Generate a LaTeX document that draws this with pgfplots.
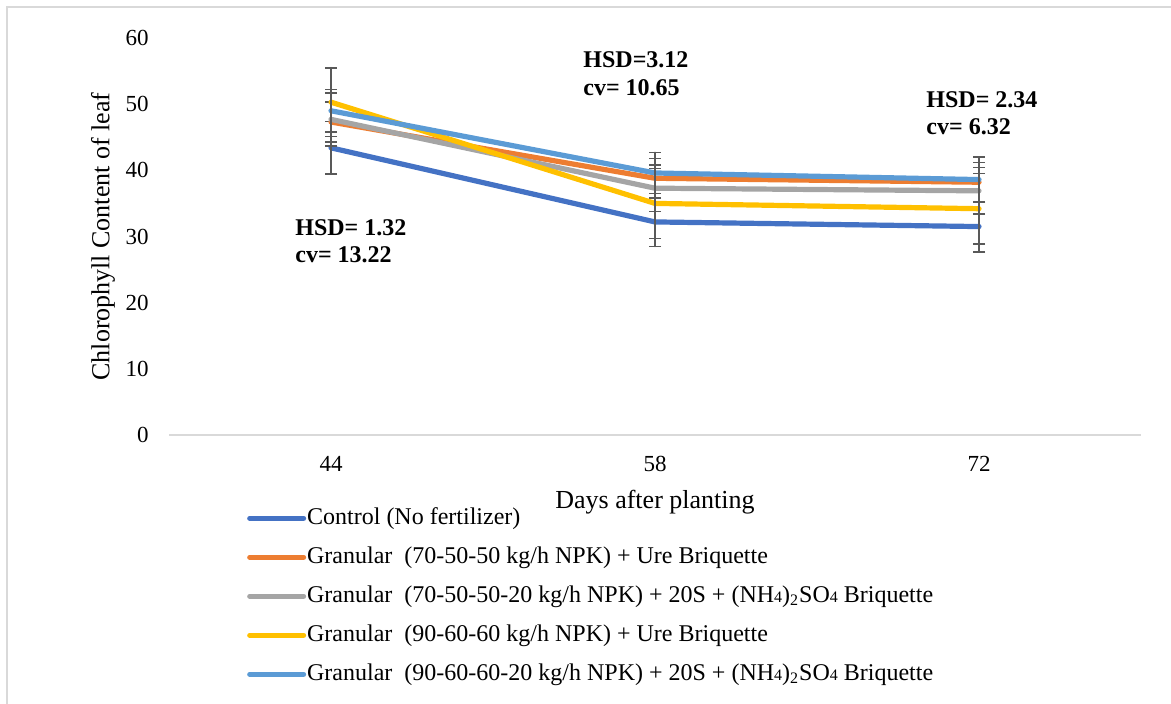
\documentclass[border=0pt]{standalone}
\usepackage{fontspec}
\setmainfont{Liberation Serif}
\usepackage{pgfplots}
\pgfplotsset{compat=1.18}
\definecolor{cA}{HTML}{4472C4}
\definecolor{cB}{HTML}{ED7D31}
\definecolor{cC}{HTML}{A5A5A5}
\definecolor{cD}{HTML}{FFC000}
\definecolor{cE}{HTML}{5B9BD5}
\definecolor{errc}{HTML}{595959}
\definecolor{frame}{HTML}{D9D9D9}
\begin{document}
\begin{tikzpicture}[x=0.5pt,y=0.5pt]
\path[use as bounding box] (0,0) rectangle (1171,704);
\draw[frame, line width=0.9pt] (7,0) -- (7,697) -- (1171,697);
\begin{axis}[
  at={(84.5pt,134.5pt)}, anchor=south west,
  scale only axis, width=486pt, height=198.5pt,
  xmin=-0.5, xmax=2.5, ymin=0, ymax=60,
  xtick={0,1,2}, xticklabels={44,58,72},
  ytick={0,10,...,60},
  major tick length=0pt,
  axis line style={draw=none},
  /pgf/number format/assume math mode=true,
  tick label style={font=\fontsize{11.5}{13}\selectfont},
  yticklabel style={xshift=-6.7pt},
  xticklabel style={yshift=-7pt},
  xlabel={Days after planting},
  ylabel={Chlorophyll Content of leaf},
  label style={font=\fontsize{13}{15}\selectfont},
  xlabel style={at={(axis description cs:0.5,-0.1864)}, anchor=base},
  ylabel style={at={(axis description cs:-0.068,0.5)}, anchor=center},
  clip=false,
  legend cell align=left,
  legend style={draw=none, fill=none, at={(axis description cs:0.080,-0.176)}, anchor=north west,
    font=\fontsize{12}{14}\selectfont, inner sep=0pt, row sep=6.5pt,
    nodes={inner sep=0.5pt, text height=9pt, text depth=3pt}},
  legend image code/.code={\draw[#1, line width=2.5pt, line cap=round] (1pt,0pt) -- (28pt,0pt);},
  every axis plot/.append style={line width=2.6pt, line join=round, line cap=round},
  error bars/y dir=both, error bars/y explicit,
  error bars/error bar style={errc, line width=0.8pt},
  error bars/error mark options={rotate=90, errc, line width=0.8pt, mark size=3pt},
]
\draw[frame, line width=0.9pt] (axis cs:-0.5,0) -- (axis cs:2.5,0);
\addplot[cA] coordinates {(0,43.4) +- (0,4.0) (1,32.2) +- (0,3.7) (2,31.5) +- (0,3.8)};
\addlegendentry{Control (No fertilizer)}
\addplot[cB] coordinates {(0,47.3) +- (0,3.0) (1,38.8) +- (0,3.0) (2,38.2) +- (0,3.0)};
\addlegendentry{Granular\ \ (70-50-50 kg/h NPK) + Ure Briquette}
\addplot[cC] coordinates {(0,47.7) +- (0,4.0) (1,37.3) +- (0,3.5) (2,36.9) +- (0,3.5)};
\addlegendentry{Granular\ \ (70-50-50-20 kg/h NPK) + 20S + (NH{\fontsize{8}{9}\selectfont 4})\textsubscript{2}SO{\fontsize{8}{9}\selectfont 4} Briquette}
\addplot[cD] coordinates {(0,50.3) +- (0,5.2) (1,35.0) +- (0,5.3) (2,34.2) +- (0,5.3)};
\addlegendentry{Granular\ \ (90-60-60 kg/h NPK) + Ure Briquette}
\addplot[cE] coordinates {(0,49.0) +- (0,3.2) (1,39.6) +- (0,3.1) (2,38.6) +- (0,3.4)};
\addlegendentry{Granular\ \ (90-60-60-20 kg/h NPK) + 20S + (NH{\fontsize{8}{9}\selectfont 4})\textsubscript{2}SO{\fontsize{8}{9}\selectfont 4} Briquette}
\end{axis}
\begin{scope}[every node/.style={anchor=west, inner sep=0pt, font=\bfseries\fontsize{12}{14}\selectfont}]
\node at (295,476) {HSD= 1.32};
\node at (295,449) {cv= 13.22};
\node at (583,644) {HSD=3.12};
\node at (583,616) {cv= 10.65};
\node at (926,604) {HSD= 2.34};
\node at (926,577) {cv= 6.32};
\end{scope}
\end{tikzpicture}
\end{document}
